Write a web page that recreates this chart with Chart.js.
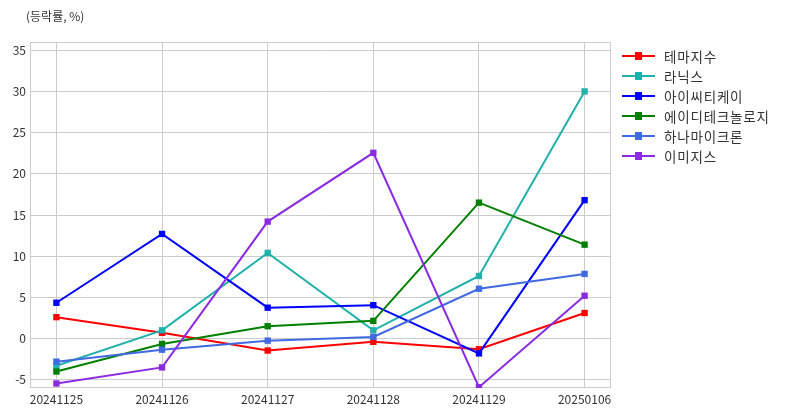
<!DOCTYPE html>
<html>
<head>
<meta charset="utf-8">
<script src="https://cdn.jsdelivr.net/npm/chart.js@4"></script>
<style>
  body { margin: 0; background: #fff; font-family: 'Noto Sans CJK KR', sans-serif; }
  #wrap { position: relative; width: 789px; height: 416px; }
  #unit { position: absolute; left: 26px; top: 7px; font-size: 12px; color: #333; }
  #legend { position: absolute; left: 622px; top: 46px; font-size: 13.5px; letter-spacing: 0.8px; color: #333; }
  .row { height: 20px; display: flex; align-items: center; }
  .sw { position: relative; width: 33px; height: 2px; margin-right: 9px; }
  .sw i { position: absolute; left: 13px; top: -3px; width: 7px; height: 8px; }
</style>
</head>
<body>
<div id="wrap">
  <canvas id="c" width="789" height="416"></canvas>
  <div id="unit">(등락률, %)</div>
  <div id="legend"></div>
</div>
<script>
const dates = ['20241125', '20241126', '20241127', '20241128', '20241129', '20250106'];
const names = ['테마지수', '라닉스', '아이씨티케이', '에이디테크놀로지', '하나마이크론', '이미지스'];
const colors = ['#ff0000', '#20b2aa', '#0000ff', '#008000', '#4169e1', '#8a2be2'];

const themeIdx = [2.6, 0.7, -1.45, -0.4, -1.3, 3.1];
const lanix = [-3.3, 1.0, 10.4, 1.0, 7.6, 30.0];
const ictk = [4.35, 12.7, 3.75, 4.05, -1.8, 16.8];
const adTech = [-4.0, -0.65, 1.5, 2.15, 16.5, 11.4];
const hanaMicron = [-2.8, -1.35, -0.25, 0.2, 6.05, 7.85];
const imagis = [-5.45, -3.5, 14.2, 22.55, -5.9, 5.2];
const series = [themeIdx, lanix, ictk, adTech, hanaMicron, imagis];
const yTicks = [-5, 0, 5, 10, 15, 20, 25, 30, 35];

const gridColor = '#cccccc';

const frame = {
  id: 'frame',
  beforeDatasetsDraw(chart) {
    const a = chart.chartArea, ctx = chart.ctx;
    ctx.save();
    ctx.strokeStyle = gridColor;
    ctx.lineWidth = 1;
    ctx.strokeRect(a.left + 0.5, a.top + 0.5, a.right - a.left - 1, a.bottom - a.top - 1);
    ctx.restore();
  }
};

new Chart(document.getElementById('c'), {
  type: 'line',
  data: {
    datasets: series.map((vals, i) => ({
      label: names[i],
      data: vals.map((v, j) => ({ x: j, y: v })),
      borderColor: colors[i],
      backgroundColor: colors[i],
      borderWidth: 2,
      pointStyle: 'rect',
      pointRadius: 4.5,
      pointBorderWidth: 0,
      order: series.length - i,
      tension: 0
    }))
  },
  options: {
    responsive: false,
    animation: false,
    layout: { padding: { top: 42, right: 178, left: 0, bottom: 0 } },
    plugins: { legend: { display: false }, tooltip: { enabled: false } },
    scales: {
      x: {
        type: 'linear',
        min: -0.25,
        max: dates.length - 0.75,
        afterBuildTicks(scale) { scale.ticks = dates.map((_, i) => ({ value: i })); },
        afterFit(scale) { scale.height = 28; },
        grid: { color: gridColor, drawTicks: false },
        border: { display: false },
        ticks: {
          padding: 4,
          color: '#333',
          font: { family: "'Noto Sans CJK KR', sans-serif", size: 12 },
          autoSkip: false,
          maxRotation: 0,
          callback: v => dates[v]
        }
      },
      y: {
        min: -6,
        max: 36,
        afterBuildTicks(scale) { scale.ticks = yTicks.map(v => ({ value: v })); },
        afterFit(scale) { scale.width = 30; },
        grid: { color: gridColor, drawTicks: false },
        border: { display: false },
        ticks: {
          padding: 4,
          color: '#333',
          font: { family: "'Noto Sans CJK KR', sans-serif", size: 12 }
        }
      }
    }
  },
  plugins: [frame]
});

const legend = document.getElementById('legend');
names.forEach((n, i) => {
  const row = document.createElement('div');
  row.className = 'row';
  row.innerHTML = '<span class="sw" style="background:' + colors[i] + '"><i style="background:' + colors[i] + '"></i></span>' + n;
  legend.appendChild(row);
});
</script>
</body>
</html>
